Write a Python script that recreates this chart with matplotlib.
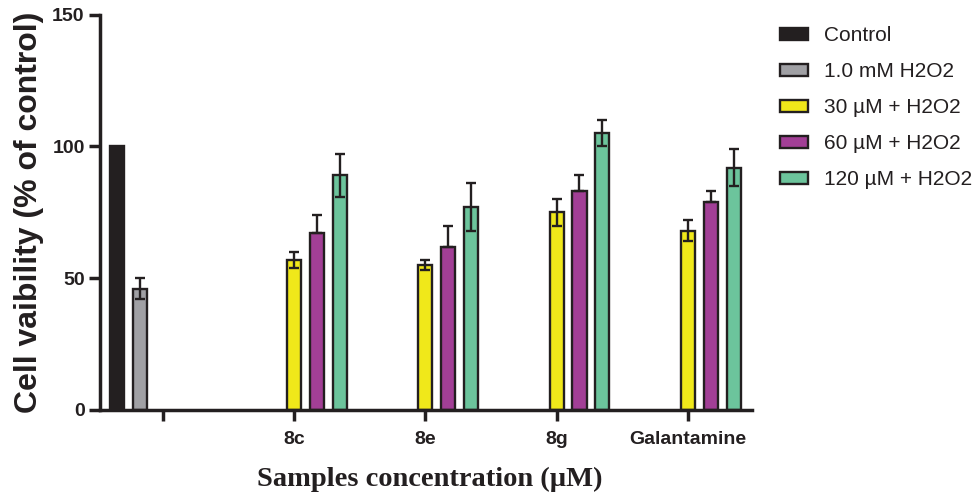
import numpy as np
import matplotlib
matplotlib.use("Agg")
import matplotlib.pyplot as plt
from matplotlib.patches import Patch

nan = np.nan
categories = ['', '8c', '8e', '8g', 'Galantamine']
series_names = ['Control', '1.0 mM H2O2', '30 µM + H2O2', '60 µM + H2O2', '120 µM + H2O2']
control = [100, nan, nan, nan, nan]
control_err = [nan, nan, nan, nan, nan]
h2o2 = [46, nan, nan, nan, nan]
h2o2_err = [4, nan, nan, nan, nan]
c30 = [nan, 57, 55, 75, 68]
c30_err = [nan, 3, 2, 5, 4]
c60 = [nan, 67, 62, 83, 79]
c60_err = [nan, 7, 8, 6, 4]
c120 = [nan, 89, 77, 105, 92]
c120_err = [nan, 8, 9, 5, 7]

colors = ['#231f20', '#a0a0a4', '#f0e81a', '#a23f96', '#6cc49c']
dark = '#231f20'

fig = plt.figure(figsize=(9.78, 4.92), dpi=100)
ax = fig.add_axes([100/978, 1-410/492, 652/978, (410-14.7)/492])

x = np.arange(len(categories))
slot = 0.175
width = 0.107
all_vals = [control, h2o2, c30, c60, c120]
all_errs = [control_err, h2o2_err, c30_err, c60_err, c120_err]
upper_only = [False, False, False, True, False]
for i, (vals, errs, col) in enumerate(zip(all_vals, all_errs, colors)):
    pos = x + (i - 2) * slot
    v = np.array(vals, dtype=float)
    e = np.array(errs, dtype=float)
    ax.bar(pos, v, width=width, color=col, edgecolor=dark, linewidth=1.7, zorder=2)
    m = ~np.isnan(e)
    if m.any():
        if upper_only[i]:
            yerr = [np.zeros(m.sum()), e[m]]
        else:
            yerr = e[m]
        ax.errorbar(pos[m], v[m], yerr=yerr, fmt='none', ecolor=dark,
                    elinewidth=1.7, capsize=3.5, capthick=1.7, zorder=3)

ax.set_xlim(-0.48, 4.49)
ax.set_ylim(0, 150)
ax.set_yticks([0, 50, 100, 150])
ax.set_xticks(x)
ax.set_xticklabels(categories, fontsize=14, fontweight='bold',
                   family='Liberation Sans', color=dark)
for lab in ax.get_yticklabels():
    lab.set_fontsize(14)
    lab.set_fontweight('bold')
    lab.set_family('Liberation Sans')
    lab.set_color(dark)

for s in ['top', 'right']:
    ax.spines[s].set_visible(False)
for s in ['left', 'bottom']:
    ax.spines[s].set_linewidth(2.5)
    ax.spines[s].set_color(dark)
ax.tick_params(axis='both', width=2.5, length=8, color=dark)
ax.tick_params(axis='x', pad=7)
ax.tick_params(axis='y', pad=3)

ax.set_ylabel('Cell vaibility (% of control)', fontsize=23, fontweight='bold',
              family='Liberation Sans', color=dark, labelpad=6)
fig.text(429.5/978, 1-486/492, 'Samples concentration (µM)', fontsize=20.5,
         fontweight='bold', family='Liberation Serif', color=dark,
         ha='center', va='baseline')

handles = [Patch(facecolor=c, edgecolor=dark, linewidth=1.7) for c in colors]
leg = fig.legend(handles, series_names, loc='upper left',
                 bbox_to_anchor=(780/978, 1-26/492), frameon=False,
                 prop={'family': 'Liberation Sans', 'size': 15},
                 handlelength=1.35, handleheight=0.5, handletextpad=0.75,
                 labelspacing=0.82, borderaxespad=0, borderpad=0)
for t in leg.get_texts():
    t.set_color(dark)

fig.savefig('out.png', dpi=100)
